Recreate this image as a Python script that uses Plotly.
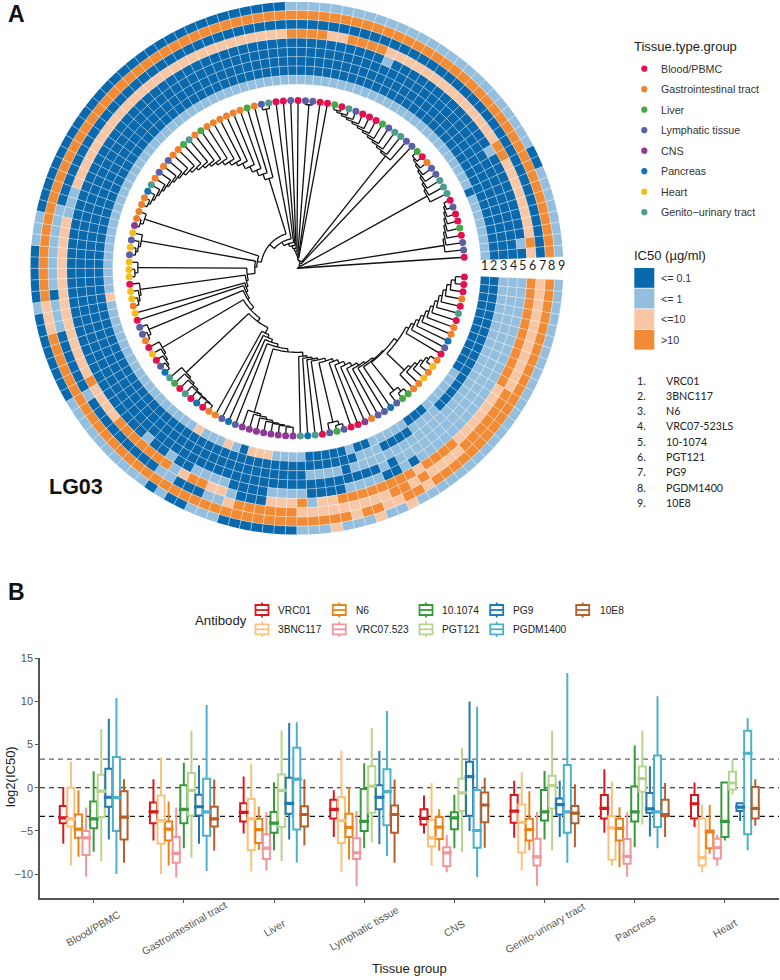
import plotly.graph_objects as go

# ---- panel A data, read clockwise from the gap at 3 o'clock
# levels: 0 <=0.1, 1 <=1, 2 <=10, 3 >10; each ring is (level, number of cells)
RING1 = [(0,12),(1,6),(0,3),(1,5),(0,2),(1,1),(0,5),(1,4),(2,3),(0,1),(1,1),(2,1),(1,3),(2,1),(1,19),(2,1),(1,65),(0,1),(1,8)]
RING2 = [(0,17),(1,4),(0,4),(1,3),(0,114)]
RING3 = [(1,29),(0,1),(1,4),(0,108)]
RING4 = [(1,24),(0,1),(1,1),(0,116)]
RING5 = [(1,22),(0,1),(1,1),(0,2),(1,4),(0,4),(1,4),(0,4),(1,4),(0,2),(1,1),(0,2),(1,1),(0,64),(1,1),(0,13),(1,1),(0,9),(1,1),(0,1)]
RING6 = [(3,11),(2,7),(3,4),(2,1),(3,8),(2,2),(1,1),(3,1),(2,3),(0,3),(1,1),(2,2),(3,2),(2,1),(1,1),(3,7),(2,4),(3,1),(2,16),(1,3),(2,27),(3,4),(2,2),(3,4),(2,14),(3,2),(2,8),(3,1),(2,1)]
RING7 = [(2,11),(3,7),(2,4),(3,1),(2,1),(3,2),(2,9),(3,6),(2,1),(1,2),(0,3),(1,2),(0,9),(1,1),(0,6),(1,3),(0,1),(1,8),(0,65)]
RING8 = [(3,22),(2,1),(3,2),(2,2),(3,2),(2,1),(3,35),(2,3),(3,74)]
RING9 = [(1,24),(2,1),(1,2),(2,1),(1,3),(2,1),(1,3),(0,7),(1,3),(0,2),(1,1),(0,1),(1,10),(0,8),(1,1),(0,5),(1,3),(0,30),(1,26),(0,2),(1,8)]
RINGS = [RING1, RING2, RING3, RING4, RING5, RING6, RING7, RING8, RING9]

# tissue of each tip, same clockwise order
TIPS = ("BBBGBUBGGPYBGHGHGGVVYPYYGCBBYVYBUPU"
        "CCCCCCCCYPYGGBPBUBVUPYBHBGYYBHGHHBHHH"
        "YHYHCGGGGPUGYGYGGVUGVGGGGGGVGYUBBYB"
        "YYBBVBUYBBBVYUUYYVBGYYUUUBYBBVBYYB")
TISSUE_NAMES = ["Blood/PBMC", "Gastrointestinal tract", "Liver", "Lymphatic tissue", "CNS", "Pancreas", "Heart", "Genito\u2212urinary tract"]
TISSUE_CODES = ["B", "G", "V", "Y", "C", "P", "H", "U"]
TISSUE_COLORS = ["#E2114E", "#F0802C", "#46A846", "#5A5FA6", "#8E3A94", "#0F74B0", "#F2BD1C", "#4E9C8E"]
LEVEL_NAMES = ["<= 0.1", "<= 1", "<=10", ">10"]
LEVEL_COLORS = ["#0A69AC", "#93BEDD", "#F8C6A4", "#F18B36"]
NUMBERED = ["VRC01", "3BNC117", "N6", "VRC07-523LS", "10-1074", "PGT121", "PG9", "PGDM1400", "10E8"]

# branch radii of the dendrogram clades, root side first
R_C0 = [127,130,133,136,139,142,145,148,151,155,159]
R_C1 = [148,151,154,157,160]
R_C2 = [156,161]
R_FORK28 = [158,162]
R_CNS = [150,152,154,156,157,158,159]
R_A = [152,154,156,158,159,160,161]
R_B = [156,158,160,162]
R_C = [160,163]
R_D = [158,160,162]
R_E = [159,162]
R_F = [158,160,162]
R_G = [160,163]
R_TOPLEFT = [94,100,106,112,118,122,126,130,133,136,139,142,145,148,150,152,154,156,158,160,162]
R_FORK101 = [162]
R_FORK107 = [164]
R_T111 = [143,145,147,149,151,153,155,157,159,161,163]
R_T124 = [149,151,153,155,157,159,161]
R_T132 = [149,151,153,155,157,159,161]

# ---- panel B data: (lower whisker, q1, median, q3, upper whisker) per tissue group
GROUPS = ["Blood/PBMC", "Gastrointestinal tract", "Liver", "Lymphatic tissue", "CNS", "Genito-urinary tract", "Pancreas", "Heart"]
VRC01 = [(-6.5,-4.1,-3.5,-2.1,0.1),(-6.1,-4.1,-2.8,-1.7,1.0),(-5.3,-3.9,-2.85,-1.8,1.3),(-5.7,-3.55,-2.5,-1.4,-0.3),(-5.3,-4.25,-3.55,-2.5,-0.9),(-5.8,-4.05,-2.7,-0.85,0.8),(-5.2,-3.55,-2.4,-0.85,2.15),(-4.55,-3.55,-1.85,-0.85,0.6)]
BNC117 = [(-9,-4.5,-3.6,0,3.05),(-10,-6.5,-3.8,-0.9,3.5),(-9.7,-7.25,-3.6,-1.3,2.8),(-9.8,-6.4,-3.8,-1.1,4.3),(-9,-6.8,-5.8,-3.7,0.55),(-9.55,-7.5,-4,-1.95,1.8),(-9,-8.35,-4.65,-3.3,0.7),(-9.8,-9,-8.1,-3.55,-2)]
N6 = [(-8,-5.8,-4.8,-3.1,-0.3),(-9,-6.1,-4.8,-3.9,-1.6),(-7.2,-6.4,-4.85,-3.6,-2.2),(-8.3,-5.7,-4.6,-3,0.1),(-7.3,-5.95,-4.55,-3.4,-2.5),(-7.2,-6.1,-4.85,-3.6,-0.4),(-9.2,-6.1,-4.7,-3.6,-2.25),(-7.65,-7,-5.1,-4.95,-2)]
VRC07 = [(-10.3,-7.8,-5.8,-5,-2.3),(-10.4,-8.7,-7.6,-5.7,-2.3),(-9.6,-8.25,-7,-5.4,-2.8),(-11.4,-8.25,-7.55,-5.85,-2.7),(-9.8,-9.1,-7.55,-6.9,-5.5),(-11.35,-9,-8,-5.9,-2.8),(-10.3,-8.8,-7.95,-5.95,-2.8),(-9.05,-8.2,-6.95,-5.9,-5.45)]
V1074 = [(-7.4,-4.7,-3.6,-1.6,1.9),(-7,-4.1,-2.5,0.3,2.9),(-7.25,-5.2,-4.1,-2.8,0.65),(-7,-5,-3.9,-0.15,2.85),(-7,-4.8,-3.5,-2.85,-0.8),(-6,-3.8,-2.8,-0.25,1.95),(-6.9,-3.9,-2.8,0.15,4.9),(-6.1,-5.7,-3.9,0.6,0.65)]
PGT121 = [(-8.5,-3.4,-0.4,1.5,6.8),(-8.1,-3.2,-0.3,1.7,6.6),(-8.5,-4.55,-0.3,1.55,6.6),(-6.3,-2.9,0.2,2.5,6.9),(-7.45,-2.7,-0.6,1.05,4.6),(-7.25,-2.4,0.25,1.4,6.6),(-4.25,-0.45,1.05,2.45,6.6),(-0.8,-0.2,0.55,1.85,3.3)]
PG9 = [(-6,-2.2,-1.1,2.2,8),(-6.5,-3.2,-2.2,-0.8,2.6),(-6,-3,-1.8,1.15,7.5),(-6.55,-2.5,-1.1,0.3,4.25),(-5,-3.25,1.3,3,10),(-5.7,-3.1,-1.95,-1.25,0.8),(-5.65,-2.9,-2.45,-0.6,2.5),(-3.85,-2.7,-2.25,-1.8,-1.8)]
PGDM1400 = [(-10,-5,-1.15,3.55,10.4),(-9.65,-5.55,-2.8,1.05,9.6),(-8.65,-4.85,1,4.65,7.6),(-7.9,-4.35,-0.45,2.15,8.9),(-10.35,-6.95,-4.95,-0.25,9.4),(-8.7,-5.2,-2.8,2.65,13.3),(-7,-4.55,-2.8,3.75,10.6),(-7.25,-5.4,4,6.6,8.05)]
E10E8 = [(-8.7,-6,-3.4,-0.4,1),(-7.3,-4.5,-3.6,-2.2,0.95),(-6.7,-4.5,-3.1,-2.15,1),(-8.7,-5.2,-3.1,-2.05,0.95),(-6.95,-4,-2,-0.55,1.15),(-6.9,-4.1,-2.95,-2.1,0.4),(-5.7,-3.3,-3.1,-1.4,0.55),(-4.4,-3.55,-2.4,0.1,1)]
ANTIBODY_STATS = [VRC01, BNC117, N6, VRC07, V1074, PGT121, PG9, PGDM1400, E10E8]
ANTIBODY_NAMES = ["VRC01", "3BNC117", "N6", "VRC07.523", "10.1074", "PGT121", "PG9", "PGDM1400", "10E8"]
ANTIBODY_COLORS = ["#D7191F", "#F9C27B", "#E8851A", "#F0979C", "#369A3C", "#B6D48E", "#2277B4", "#4BB1CC", "#B4602E"]
CUTOFFS = [3.32, 0, -3.32]
CUTOFF_COLORS = ["#666666", "#111111", "#111111"]
Y_TICKS = [15, 10, 5, 0, -5, -10]

WIDTH, HEIGHT = 780, 980
CX, CY, R_OUT = 296.8, 268.3, 266.5
R_RING0, RING_W = 184, 9.25
CELL = 2.5
TIP_START, TIP_STEP, TIP_R = 3, 2.523, 167.8


def X(px):
    return px / WIDTH


def Y(py):
    return 1 - py / HEIGHT


def expand(runs):
    out = []
    for level, n in runs:
        out += [level] * n
    return out


def ladder(radii):
    node = (radii[-1], [None, None])
    for r in reversed(radii[:-1]):
        node = (r, [node, None])
    return node


def spine(entries, tail):
    node = tail
    for r, clade in reversed(entries):
        node = (r, [node, clade])
    return node


# clades are listed in clockwise tip order inside each node
right = spine(
    [(88, None), (90, None), (92, None), (94, None), (97, ladder(R_FORK28)), (100, None), (104, None),
     (108, None), (112, None), (115, None), (117, None), (119, None)],
    (120, [(124, [ladder(R_C0), ladder(R_C1)]), ladder(R_C2)]),
)
bottom_left = spine(
    [(40, ladder(R_G)), (42, ladder(R_F)), (50, ladder(R_E)), (52, ladder(R_D)), (54, None), (56, None),
     (58, ladder(R_C)), (62, ladder(R_B)), (66, ladder(R_A)), (72, None), (75, None), (78, None), (81, None),
     (84, ladder(R_CNS))],
    right,
)
tree = spine(
    [(1, None), (2.5, ladder(R_T132)), (4, ladder(R_T124)), (6, None), (8, ladder(R_T111)), (10, None), (12, None),
     (14, ladder(R_FORK107)), (17, None), (20, None), (23, None), (26, None), (30, ladder(R_FORK101))],
    (36, [bottom_left, ladder(R_TOPLEFT)]),
)

tip_theta = [TIP_START + TIP_STEP * i for i in range(len(TIPS))]
seg_r, seg_t = [], []
tip_counter = [0]


def walk(node):
    if node is None:
        th = tip_theta[tip_counter[0]]
        tip_counter[0] += 1
        return th, TIP_R
    r, kids = node
    placed = [walk(k) for k in kids]
    for th, child_r in placed:
        seg_r.extend([r, child_r, None])
        seg_t.extend([th, th, None])
    a, b = placed[0][0], placed[-1][0]
    steps = max(2, int((b - a) / 2) + 1)
    for i in range(steps + 1):
        seg_r.append(r)
        seg_t.append(a + (b - a) * i / steps)
    seg_r.append(None)
    seg_t.append(None)
    return (a + b) / 2, r


root_theta, root_r = walk(tree)
seg_r.extend([0, root_r, None])
seg_t.extend([root_theta, root_theta, None])

fig = go.Figure()

for k, runs in enumerate(RINGS):
    levels = expand(runs)
    fig.add_trace(go.Barpolar(
        r=[RING_W] * len(levels),
        base=[R_RING0 + RING_W * k] * len(levels),
        theta=[2.5 + CELL * (j + 0.5) for j in range(len(levels))],
        width=[CELL] * len(levels),
        marker=dict(color=[LEVEL_COLORS[v] for v in levels], line=dict(color="rgba(255,255,255,0.6)", width=0.5)),
        hoverinfo="skip", showlegend=False, subplot="polar",
    ))

fig.add_trace(go.Scatterpolar(
    r=seg_r, theta=seg_t, mode="lines", line=dict(color="#111111", width=1.3),
    connectgaps=False, hoverinfo="skip", showlegend=False, subplot="polar",
))
fig.add_trace(go.Scatterpolar(
    r=[TIP_R] * len(TIPS), theta=tip_theta, mode="markers",
    marker=dict(size=7, color=[TISSUE_COLORS[TISSUE_CODES.index(c)] for c in TIPS]),
    hoverinfo="skip", showlegend=False, subplot="polar",
))

# panel B boxes, dodged by hand on a numeric x axis
for k, stats in enumerate(ANTIBODY_STATS):
    xs = [g + (k - 4) * 0.0842 for g in range(len(GROUPS))]
    color = ANTIBODY_COLORS[k]
    fig.add_trace(go.Box(
        x=xs, lowerfence=[s[0] for s in stats], q1=[s[1] for s in stats], median=[s[2] for s in stats],
        q3=[s[3] for s in stats], upperfence=[s[4] for s in stats],
        width=0.078, whiskerwidth=0, boxpoints=False, fillcolor="white",
        line=dict(color=color, width=2), name=ANTIBODY_NAMES[k], showlegend=False,
        xaxis="x", yaxis="y",
    ))
    fig.add_trace(go.Scatter(
        x=xs, y=[s[2] for s in stats], mode="markers",
        marker=dict(symbol="line-ew", size=7, line=dict(color=color, width=3.2)),
        showlegend=False, hoverinfo="skip", xaxis="x", yaxis="y",
    ))

shapes = []
annots = []


def text(px, py, s, size, color="#222222", anchor="left", family="Liberation Sans", bold=False, angle=0):
    # annotations carry about 2px of padding on the anchored side
    x = px - 2 if anchor == "left" else px
    annots.append(dict(
        x=X(x), y=Y(py), xref="paper", yref="paper", text=f"<b>{s}</b>" if bold else s, showarrow=False,
        xanchor=anchor, yanchor="middle", textangle=angle, font=dict(size=size, color=color, family=family),
    ))


text(8, 14, "A", 23, "#111111", bold=True)
text(8, 592, "B", 23, "#111111", bold=True)
text(49, 487, "LG03", 21.5, "#111111", bold=True)

for i in range(9):
    text(484 + 9.7 * i, 266, str(i + 1), 12.5, "#222222", "center", "Lato")

# tissue legend
text(634, 46, "Tissue.type.group", 13)
for i, name in enumerate(TISSUE_NAMES):
    py = 68.7 + 20.5 * i
    shapes.append(dict(type="circle", xref="paper", yref="paper", x0=X(641.2), x1=X(647.4), y0=Y(py + 3.1), y1=Y(py - 3.1),
                       fillcolor=TISSUE_COLORS[i], line_width=0))
    text(661, py, name, 10.7, "#333333")

# IC50 legend
text(634, 255, "IC50 (\u00b5g/ml)", 13)
for i, name in enumerate(LEVEL_NAMES):
    top = 268 + 20.6 * i
    shapes.append(dict(type="rect", xref="paper", yref="paper", x0=X(634.3), x1=X(654.3), y0=Y(top + 19.8), y1=Y(top),
                       fillcolor=LEVEL_COLORS[i], line_width=0))
    text(661, top + 10, name, 10.7, "#333333")

# numbered antibody list
for i, name in enumerate(NUMBERED):
    py = 380 + 15.3 * i
    text(636.5, py, f"{i + 1}.", 10.7, "#222222", family="Lato")
    text(665.5, py, name, 10.7, "#222222", family="Lato")

# antibody legend of panel B
text(195, 620, "Antibody", 13.2)
key_cols = [(262, 278.3), (339.3, 355.7), (426, 442.3), (496.7, 512.7), (582.7, 600)]
key_rows = [610, 629.3]
for k, name in enumerate(ANTIBODY_NAMES):
    kx, tx = key_cols[k // 2]
    ky = key_rows[k % 2]
    color = ANTIBODY_COLORS[k]
    for y0, y1 in [(ky - 7.5, ky - 5), (ky + 5, ky + 7.5)]:
        shapes.append(dict(type="line", xref="paper", yref="paper", x0=X(kx), x1=X(kx), y0=Y(y0), y1=Y(y1), line=dict(color=color, width=1.8)))
    shapes.append(dict(type="rect", xref="paper", yref="paper", x0=X(kx - 6.5), x1=X(kx + 6.5), y0=Y(ky + 5), y1=Y(ky - 5),
                       line=dict(color=color, width=1.8), fillcolor="white"))
    shapes.append(dict(type="line", xref="paper", yref="paper", x0=X(kx - 6.5), x1=X(kx + 6.5), y0=Y(ky), y1=Y(ky), line=dict(color=color, width=1.8)))
    text(tx, ky, name, 10.2, "#222222")

# cutoff lines run behind the white box fills
for c, color in zip(CUTOFFS, CUTOFF_COLORS):
    shapes.append(dict(type="line", xref="paper", yref="y", x0=X(40), x1=X(779), y0=c, y1=c,
                       line=dict(color=color, width=1.2, dash="5px,4px"), layer="below"))

# slanted group labels sit centred on their ticks
for g, name in enumerate(GROUPS):
    annots.append(dict(x=g, y=Y(928), xref="x", yref="paper", text=name, showarrow=False, textangle=-30,
                       xanchor="center", yanchor="middle", font=dict(size=10.5, color="#555555", family="Liberation Sans")))
text(409.5, 968, "Tissue group", 13, "#222222", "center")
text(10, 777, "log2(IC50)", 13, "#222222", "center", angle=-90)

fig.update_layout(
    width=WIDTH, height=HEIGHT, margin=dict(l=0, r=0, t=0, b=0, autoexpand=False), showlegend=False,
    paper_bgcolor="white", plot_bgcolor="white",
    font=dict(family="Liberation Sans"),
    shapes=shapes, annotations=annots,
    polar=dict(
        domain=dict(x=[X(CX - R_OUT), X(CX + R_OUT)], y=[Y(CY + R_OUT), Y(CY - R_OUT)]),
        bgcolor="rgba(0,0,0,0)", barmode="overlay",
        angularaxis=dict(visible=False, direction="clockwise", rotation=0, thetaunit="degrees"),
        radialaxis=dict(visible=False, range=[0, R_OUT]),
    ),
    xaxis=dict(
        domain=[X(40), X(779)], range=[-0.595, 7.6], tickmode="array", tickvals=list(range(len(GROUPS))),
        showticklabels=False, ticks="outside", ticklen=3, tickcolor="#555555", showgrid=False, zeroline=False,
        showline=True, linecolor="#555555", linewidth=1.5,
    ),
    yaxis=dict(
        domain=[Y(897.8), Y(658.3)], range=[-12.75, 15], tickmode="array", tickvals=Y_TICKS,
        ticks="outside", ticklen=3, tickcolor="#555555", showgrid=False, zeroline=False,
        tickfont=dict(size=11, color="#555555"), showline=True, linecolor="#555555", linewidth=1.5,
    ),
)

# the browser's default 8px body margin would push the figure off the page
fig.write_html("out.html", config={"displayModeBar": False}, post_script="document.body.style.margin='0';")
